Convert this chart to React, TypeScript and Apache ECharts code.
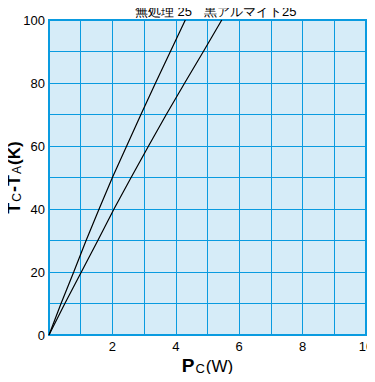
import React, { useEffect, useRef } from "react";
import * as echarts from "echarts";

const seriesNames = ["無処理 25", "黒アルマイト25"];
// [Pc (W), Tc-Ta (K)]
const untreated: number[][] = [
  [0, 0], [0.38, 10], [0.78, 20], [1.17, 30], [1.58, 40], [2.0, 50],
  [2.45, 60], [2.9, 70], [3.36, 80], [3.83, 90], [4.3, 100],
];
const blackAlumite: number[][] = [
  [0, 0], [0.5, 10], [1.02, 20], [1.54, 30], [2.05, 40], [2.59, 50],
  [3.14, 60], [3.7, 70], [4.28, 80], [4.87, 90], [5.45, 100],
];
const xTickLabels = [2, 4, 6, 8, 10];
const yTickLabels = [0, 20, 40, 60, 80, 100];

const FONT = "'Liberation Sans', Arial, sans-serif";
const GRID = "#0a9be0";

export default function App() {
  const ref = useRef<HTMLDivElement>(null);
  useEffect(() => {
    if (!ref.current) return;
    const chart = echarts.init(ref.current, undefined, { renderer: "svg" });
    chart.setOption({
      animation: false,
      backgroundColor: "#ffffff",
      grid: {
        left: 49,
        right: 9,
        top: 20,
        bottom: 47,
        containLabel: false,
        outerBoundsMode: "none",
        show: true,
        backgroundColor: "#d6ecf8",
        borderColor: GRID,
        borderWidth: 2,
      },
      graphic: [
        {
          type: "text",
          x: 135,
          y: 5,
          style: { text: seriesNames[0], font: `13px ${FONT}`, fill: "#000", verticalAlign: "top", align: "left" },
        },
        {
          type: "text",
          x: 204,
          y: 5,
          style: { text: seriesNames[1], font: `13px ${FONT}`, fill: "#000", verticalAlign: "top", align: "left" },
        },
      ],
      xAxis: {
        type: "value",
        min: 0,
        max: 10,
        interval: 1,
        name: "{b|P}{s|C}{m|(W)}",
        nameLocation: "middle",
        nameGap: 21,
        nameMoveOverlap: false,
        nameTextStyle: {
          rich: {
            b: { fontSize: 19, fontWeight: "bold", fontFamily: FONT, color: "#000", verticalAlign: "bottom" },
            s: { fontSize: 13, fontFamily: FONT, color: "#000", verticalAlign: "bottom", padding: [0, 1, 0, 1] },
            m: { fontSize: 17, fontFamily: FONT, color: "#000", verticalAlign: "bottom" },
          },
        },
        axisLine: { show: false },
        axisTick: { show: false },
        axisLabel: {
          margin: 5,
          fontSize: 13,
          fontFamily: FONT,
          color: "#000",
          formatter: (v: number) => (xTickLabels.includes(v) ? String(v) : ""),
        },
        splitLine: { show: true, lineStyle: { color: GRID, width: 1 } },
      },
      yAxis: {
        type: "value",
        min: 0,
        max: 100,
        interval: 10,
        name: "{b|T}{s|C}{b|-T}{s|A}{m|(K)}",
        nameLocation: "middle",
        nameGap: 26,
        nameRotate: 90,
        nameMoveOverlap: false,
        nameTextStyle: {
          rich: {
            b: { fontSize: 18, fontWeight: "bold", fontFamily: FONT, color: "#000", verticalAlign: "bottom" },
            s: { fontSize: 12, fontFamily: FONT, color: "#000", verticalAlign: "bottom", padding: [0, 1, 0, 1] },
            m: { fontSize: 17, fontWeight: "bold", fontFamily: FONT, color: "#000", verticalAlign: "bottom" },
          },
        },
        axisLine: { show: false },
        axisTick: { show: false },
        axisLabel: {
          margin: 4,
          fontSize: 13,
          fontFamily: FONT,
          color: "#000",
          formatter: (v: number) => (yTickLabels.includes(v) ? String(v) : ""),
        },
        splitLine: { show: true, lineStyle: { color: GRID, width: 1 } },
      },
      series: [
        {
          name: seriesNames[0],
          type: "line",
          data: untreated,
          symbol: "none",
          lineStyle: { color: "#000", width: 1.2 },
          z: 5,
        },
        {
          name: seriesNames[1],
          type: "line",
          data: blackAlumite,
          symbol: "none",
          lineStyle: { color: "#000", width: 1.2 },
          z: 5,
        },
      ],
    });
    return () => chart.dispose();
  }, []);
  return <div ref={ref} style={{ width: 375, height: 382, margin: -8 }} />;
}
